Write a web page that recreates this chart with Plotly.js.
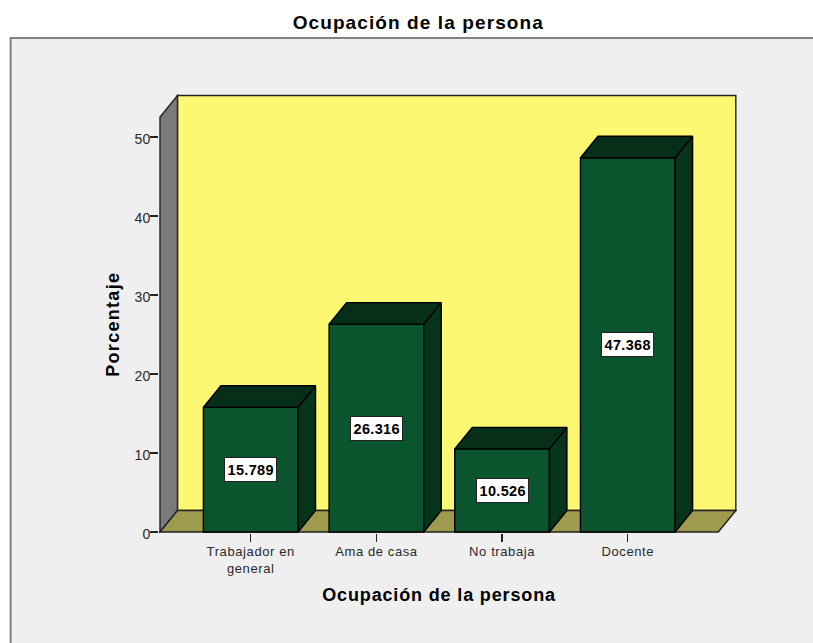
<!DOCTYPE html>
<html>
<head>
<meta charset="utf-8">
<script src="https://cdn.plot.ly/plotly-3.0.1.min.js"></script>
<style>
html,body{margin:0;padding:0;background:#fff;}
#chart{width:813px;height:643px;}
#chart .gtitle{letter-spacing:1.1px;}
#chart .xtick text{letter-spacing:0.6px;}
#chart .annotation text{letter-spacing:0.3px;}
#chart .annotation[data-index="4"] text{letter-spacing:0.85px;}
#chart .annotation[data-index="5"] text{letter-spacing:1.3px;}
</style>
</head>
<body>
<div id="chart"></div>
<script>
var categories = ["Trabajador en<br>general", "Ama de casa", "No trabaja", "Docente"];
var percentages = [15.789, 26.316, 10.526, 47.368];
var valueLabels = ["15.789", "26.316", "10.526", "47.368"];
var yTicks = [0, 10, 20, 30, 40, 50];
var chartTitle = "Ocupación de la persona";
var xTitle = "Ocupación de la persona";
var yTitle = "Porcentaje";

var W = 813, H = 643;
var pxPerCat = 125.8, pxPerUnit = 7.91, cat0Px = 250.3, zeroPx = 532.5;
var plotL = 158.5, plotR = 737, plotT = 94, plotB = 533.5;
var depthX = 17.5 / pxPerCat, depthY = 21.5 / pxPerUnit;
var barW = 0.753;
var xMin = (159.5 - cat0Px) / pxPerCat, xMax = (718.3 - cat0Px) / pxPerCat;
var yMax = (zeroPx - 117) / pxPerUnit;

function polyTrace(xs, ys, fill) {
  return {type:"scatter", mode:"lines", x:xs.concat(xs[0]), y:ys.concat(ys[0]), fill:"toself",
    fillcolor:fill, line:{color:"#000", width:1.4}, cliponaxis:false, hoverinfo:"skip", showlegend:false};
}
function polyShape(xs, ys, fill, lw, lc) {
  var p = xs.map(function(x,i){return (i?"L":"M")+x+","+ys[i];}).join(" ")+" Z";
  return {type:"path", path:p, xref:"x", yref:"y", layer:"below", fillcolor:fill, line:{color:lc||"#222", width:lw}};
}
var idx = categories.map(function(_,i){return i;});
var traces = [{type:"bar", x:idx, y:percentages, width:barW, marker:{color:"#0A542E", line:{color:"#000", width:1.4}},
  hoverinfo:"y", showlegend:false}];
percentages.forEach(function(v,i){
  var r = i + barW/2, l = i - barW/2;
  traces.push(polyTrace([r, r+depthX, r+depthX, r],[0, depthY, v+depthY, v], "#05341B"));
  traces.push(polyTrace([l, l+depthX, r+depthX, r],[v, v+depthY, v+depthY, v], "#062E19"));
});
var annotations = percentages.map(function(v,i){
  return {x:i, y:v/2, xref:"x", yref:"y", text:"<b>"+valueLabels[i]+"</b>", showarrow:false,
    bgcolor:"#fff", bordercolor:"#222", borderwidth:1, borderpad:3.5,
    font:{family:"Liberation Sans", size:14.5, color:"#000"}};
});
var spanX = plotR - plotL, spanY = plotB - plotT;
annotations.push({xref:"paper", yref:"paper", x:(439.5-plotL)/spanX, y:(plotB-596)/spanY, text:"<b>"+xTitle+"</b>",
  showarrow:false, xanchor:"center", yanchor:"middle", font:{family:"Liberation Sans", size:18, color:"#000"}});
annotations.push({xref:"paper", yref:"paper", x:(112-plotL)/spanX, y:(plotB-325)/spanY, text:"<b>"+yTitle+"</b>",
  textangle:-90, showarrow:false, xanchor:"center", yanchor:"middle", font:{family:"Liberation Sans", size:18, color:"#000"}});

var shapes = [
  {type:"rect", xref:"paper", yref:"paper", layer:"below", x0:(10-plotL)/spanX, x1:(W+10-plotL)/spanX,
   y0:(plotB-H-10)/spanY, y1:(plotB-38)/spanY, fillcolor:"#EFEFEF", line:{color:"#808080", width:2}},
  polyShape([xMin+depthX, xMax+depthX, xMax+depthX, xMin+depthX],[depthY, depthY, yMax+depthY, yMax+depthY], "#FCF871", 1.4),
  polyShape([xMin, xMin+depthX, xMin+depthX, xMin],[0, depthY, yMax+depthY, yMax], "#7A7A7A", 1.4),
  polyShape([xMin, xMax, xMax+depthX, xMin+depthX],[0, 0, depthY, depthY], "#9E9A4E", 1.4)
];

var layout = {
  width:W, height:H, autosize:false,
  paper_bgcolor:"#fff", plot_bgcolor:"rgba(0,0,0,0)",
  margin:{l:plotL, r:W-plotR, t:plotT, b:H-plotB, pad:0},
  title:{text:"<b>"+chartTitle+"</b>", x:(418-plotL)/spanX, xanchor:"center", y:1-22/H, yanchor:"middle", xref:"paper",
    font:{family:"Liberation Sans", size:19, color:"#000"}},
  font:{family:"Liberation Sans"},
  bargap:0, showlegend:false,
  xaxis:{type:"linear", range:[(plotL-cat0Px)/pxPerCat, (plotR-cat0Px)/pxPerCat], tickmode:"array", tickvals:idx, ticktext:categories,
    ticks:"outside", ticklen:8, tickwidth:1.4, tickcolor:"#222", showgrid:false, zeroline:false, showline:false, tickangle:0,
    ticklabelstandoff:-2,
    tickfont:{family:"Liberation Sans", size:13, color:"#2a2a2a"}},
  yaxis:{range:[(zeroPx-plotB)/pxPerUnit, (zeroPx-plotT)/pxPerUnit], tickmode:"array", tickvals:yTicks,
    ticks:"outside", ticklen:8, tickwidth:1.4, tickcolor:"#222", showgrid:false, zeroline:false, showline:false,
    ticklabelstandoff:-3, ticklabelshift:2,
    tickfont:{family:"Liberation Sans", size:14, color:"#2a2a2a"}},
  annotations:annotations, shapes:shapes
};
Plotly.newPlot("chart", traces, layout, {staticPlot:true, displayModeBar:false});
</script>
</body>
</html>
